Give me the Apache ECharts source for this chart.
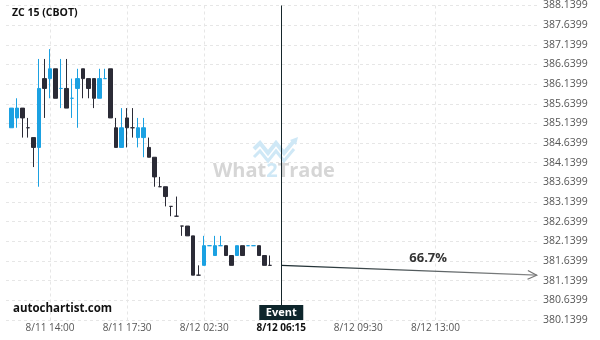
<!DOCTYPE html>
<html><head><meta charset="utf-8">
<script src="https://cdn.jsdelivr.net/npm/echarts@6/dist/echarts.min.js"></script>
<style>html,body{margin:0;padding:0;background:#fff}#c{width:600px;height:340px}</style>
</head><body><div id="c"></div>
<script>
// [open, close, low, high]
const candles = [
  [385.03,385.53,385.03,385.53],[385.28,385.53,385.03,385.78],[385.53,385.28,384.78,385.53],[385.03,385.03,384.78,385.28],
  [384.78,384.53,384.03,384.78],[384.53,386.03,383.53,386.78],[386.28,386.03,385.28,386.78],[386.28,386.53,385.78,387.03],
  [386.53,385.78,385.78,386.53],[386.03,386.03,385.53,386.78],[386.03,385.53,385.53,386.78],[385.78,385.78,385.28,386.28],
  [386.03,386.28,385.03,386.53],[386.53,386.28,385.78,386.53],[386.28,386.03,385.78,386.28],[386.28,385.78,385.53,386.28],
  [385.78,386.28,385.78,386.53],[386.28,386.28,386.28,386.53],[386.53,385.28,385.28,386.53],[385.03,384.53,384.53,385.28],
  [384.53,385.03,384.53,385.53],[385.28,385.03,384.53,385.53],[385.03,385.03,384.78,385.53],[384.78,385.03,384.53,385.28],
  [384.78,385.03,384.28,385.28],[384.53,384.28,384.28,384.78],[384.28,383.78,383.53,384.28],[383.53,383.53,383.53,383.78],
  [383.53,383.28,383.03,383.53],[383.03,383.03,382.78,383.03],[382.78,382.78,382.78,383.28],[382.53,382.53,382.28,382.53],
  [382.53,382.28,382.28,382.53],[382.28,381.28,381.28,382.28],[381.28,381.28,381.28,381.53],[381.53,382.03,381.53,382.28],
  [382.03,382.03,382.03,382.03],[381.78,382.03,381.78,382.28],[382.03,382.03,382.03,382.28],[382.03,381.78,381.78,382.03],
  [381.78,381.53,381.53,381.78],[381.78,382.03,381.78,382.03],[382.03,381.78,381.78,382.03],[382.03,382.03,382.03,382.03],
  [382.03,382.03,382.03,382.03],[382.03,381.78,381.78,382.03],[381.78,381.53,381.53,381.78],[381.53,381.53,381.53,381.78]
];
const blueDoji = [9, 11, 17, 36, 38, 43, 44];
const tickPositions = [8, 22, 36, 50, 64, 78];
const tickLabels = ['8/11 14:00', '8/11 17:30', '8/12 02:30', '8/12 06:15', '8/12 09:30', '8/12 13:00'];
const slotCount = 98;
const firstSlot = 1;
const eventSlot = 50;
const eventLabel = '8/12 06:15';
const forecastStart = 381.53;
const forecastEnd = 381.28;
const forecastEndSlot = 96.4;
const forecastText = '66.7%';
const yMin = 380.1399, yMax = 388.1399, yStep = 0.5;

const BLUE = '#1ba1e2', DARK = '#2b2b36';
const categories = Array.from({length: slotCount}, (_, i) => {
  const k = tickPositions.indexOf(i); return k >= 0 ? tickLabels[k] : ' ' + i;
});
const seriesData = [];
for (let i = 0; i < firstSlot; i++) seriesData.push('-');
candles.forEach((c, i) => {
  if (c[0] === c[1]) {
    const col = blueDoji.includes(i) ? BLUE : DARK;
    seriesData.push({value: c, itemStyle: {color: col, color0: col, borderColor: col, borderColor0: col, borderColorDoji: col}});
  } else seriesData.push(c);
});
const isTick = (i) => tickPositions.includes(i);

const chart = echarts.init(document.getElementById('c'), null, {renderer: 'canvas'});
chart.setOption({
  animation: false,
  backgroundColor: '#fff',
  title: [
    {text: 'ZC 15 (CBOT)', left: 12, top: 8, padding: 0, textStyle: {fontSize: 10.5, fontWeight: 'bold', color: '#111', fontFamily: 'Open Sans'}},
    {text: 'autochartist.com', left: 13, top: 303, padding: 0, textStyle: {fontSize: 11.5, fontWeight: 'bold', color: '#111', fontFamily: 'Open Sans'}}
  ],
  grid: {left: 6, right: 60, top: 4, bottom: 20, containLabel: false},
  xAxis: {
    type: 'category', data: categories, boundaryGap: false,
    axisLine: {show: false}, axisTick: {show: false},
    axisLabel: {
      interval: (i) => isTick(i), margin: 3, fontSize: 10, color: '#555', fontFamily: 'Open Sans',
      formatter: (v) => v === eventLabel ? '{e|' + v + '}' : v,
      rich: {e: {fontWeight: 'bold', color: '#111', fontSize: 10, fontFamily: 'Open Sans'}}
    },
    splitLine: {show: true, interval: (i) => isTick(i), lineStyle: {color: '#e6e6e6', type: [3, 3]}}
  },
  yAxis: {
    type: 'value', position: 'right', min: yMin, max: yMax, interval: yStep, scale: true,
    axisLine: {show: false}, axisTick: {show: false},
    axisLabel: {margin: 3, fontSize: 10.5, color: '#555', fontFamily: 'Open Sans', showMinLabel: true, showMaxLabel: true,
      formatter: (v) => (yMin + Math.round((v - yMin) / yStep) * yStep).toFixed(4)},
    splitLine: {show: true, lineStyle: {color: '#e6e6e6', type: [3, 3]}}
  },
  series: [{
    type: 'candlestick', data: seriesData, barWidth: 4,
    itemStyle: {color: BLUE, color0: DARK, borderColor: BLUE, borderColor0: DARK, borderWidth: 1},
    markLine: {
      silent: true, symbol: ['none', 'none'], label: {show: false},
      lineStyle: {color: '#16262b', width: 1, type: 'solid'},
      data: [{xAxis: eventSlot}]
    }
  }]
});

function addGraphics() {
  const p0 = chart.convertToPixel({seriesIndex: 0}, [eventSlot, forecastStart]);
  const a = chart.convertToPixel({seriesIndex: 0}, [Math.floor(forecastEndSlot), forecastEnd]);
  const b = chart.convertToPixel({seriesIndex: 0}, [Math.floor(forecastEndSlot) + 1, forecastEnd]);
  const f = forecastEndSlot - Math.floor(forecastEndSlot);
  const p1 = [a[0] + (b[0] - a[0]) * f, a[1]];
  const ang = Math.atan2(p1[1] - p0[1], p1[0] - p0[0]);
  const hl = 10, hw = 0.45;
  const h1 = [p1[0] - hl * Math.cos(ang - hw), p1[1] - hl * Math.sin(ang - hw)];
  const h2 = [p1[0] - hl * Math.cos(ang + hw), p1[1] - hl * Math.sin(ang + hw)];
  const t = 0.575;
  const lx = p0[0] + (p1[0] - p0[0]) * t, ly = p0[1] + (p1[1] - p0[1]) * t;
  const top = chart.convertToPixel({seriesIndex: 0}, [eventSlot, yMin]);
  chart.setOption({graphic: [
    // watermark
    {type: 'polyline', z: 0, shape: {points: [[254,149],[260,143],[268,153],[276,143],[284,153],[294,141]]},
      style: {stroke: '#cfe8f6', lineWidth: 4, fill: null}},
    {type: 'polyline', z: 0, shape: {points: [[254,157],[260,151],[268,161],[276,151],[284,161],[294,149]]},
      style: {stroke: '#cfe8f6', lineWidth: 3, fill: null}},
    {type: 'polygon', z: 0, shape: {points: [[290,140],[298,137],[296,145]]}, style: {fill: '#cfe8f6'}},
    {type: 'text', z: 0, left: 213, top: 161, style: {
      text: 'What{b|2}Trade', fill: '#d6d6d6', font: 'bold 20px "Open Sans"',
      rich: {b: {fill: '#cfe8f6', font: 'bold 20px "Open Sans"'}}}},
    // event box
    {type: 'rect', z: 10, shape: {x: p0[0] - 22, y: top[1] - 15, width: 44, height: 15}, style: {fill: '#0e262c'}},
    {type: 'text', z: 11, x: p0[0], y: top[1] - 7.5, style: {text: 'Event', fill: '#fff', font: 'bold 11px "Open Sans"', align: 'center', verticalAlign: 'middle'}},
    // forecast arrow
    {type: 'line', z: 10, shape: {x1: p0[0], y1: p0[1], x2: p1[0], y2: p1[1]},
      style: {lineWidth: 1.2, stroke: new echarts.graphic.LinearGradient(0, 0, 1, 0, [{offset: 0, color: '#15262b'}, {offset: 1, color: '#8a8a8a'}])}},
    {type: 'polyline', z: 10, shape: {points: [h1, p1, h2]}, style: {stroke: '#777', lineWidth: 1.2, fill: null}},
    {type: 'text', z: 11, x: lx, y: ly - 6, style: {text: forecastText, fill: '#333', font: 'bold 13px "Open Sans"', align: 'center', verticalAlign: 'bottom'}}
  ]});
}
addGraphics();
</script>
</body></html>
